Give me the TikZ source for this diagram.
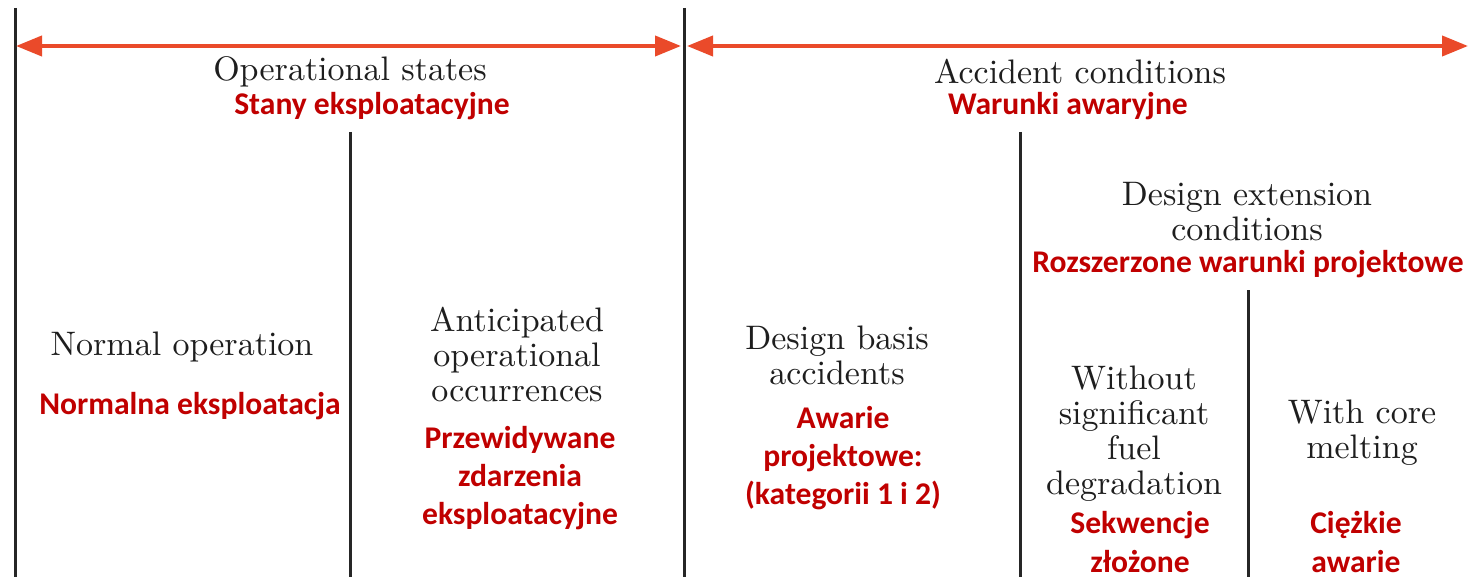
\documentclass[tikz,border=0pt]{standalone}
\usepackage{fontspec}
\usepackage{xcolor}
\usetikzlibrary{arrows.meta}
\newfontfamily\plfont{Carlito}
\newfontfamily\enfont{lmroman10-regular.otf}
\definecolor{arrowred}{HTML}{EA4A2A}
\definecolor{plred}{HTML}{C00000}
\definecolor{entext}{HTML}{1E1E1E}

\begin{document}
\begin{tikzpicture}[x=0.5pt, y=-0.5pt,
  en/.style={text=entext, align=center, inner sep=0pt, font=\enfont\fontsize{17}{17.5}\selectfont},
  pl/.style={text=plred, align=center, inner sep=0pt, font=\plfont\bfseries\fontsize{15.8}{19.2}\selectfont},
  sepline/.style={line width=1.5pt, black!85},
  span/.style={line width=2pt, arrowred, {Triangle[length=13pt,width=10pt]}-{Triangle[length=13pt,width=10pt]}}]

\useasboundingbox (0,0) rectangle (1470,577);

% separators
\coordinate (s1t) at (15,8);    \coordinate (s1b) at (15,577);
\coordinate (s2t) at (684,8);   \coordinate (s2b) at (684,577);
\coordinate (s3t) at (350,132); \coordinate (s3b) at (350,577);
\coordinate (s4t) at (1020,132);\coordinate (s4b) at (1020,577);
\coordinate (s5t) at (1248,290);\coordinate (s5b) at (1248,577);
\draw[sepline] (s1t) -- (s1b);
\draw[sepline] (s2t) -- (s2b);
\draw[sepline] (s3t) -- (s3b);
\draw[sepline] (s4t) -- (s4b);
\draw[sepline] (s5t) -- (s5b);

% arrows
\coordinate (a1) at (16,46);  \coordinate (a2) at (681,46);
\coordinate (a3) at (687,46); \coordinate (a4) at (1468,46);
\draw[span] (a1) -- (a2);
\draw[span] (a3) -- (a4);

\node (opst) at (350,72) [en]{Operational states};
\node (plopst) at (372,106) [pl]{Stany eksploatacyjne};
\node (acc) at (1080,72) [en]{Accident conditions};
\node (placc) at (1068,106) [pl]{Warunki awaryjne};

\node (norm) at (182,347) [en]{Normal operation};
\node (plnorm) at (190,406) [pl]{Normalna eksploatacja};

\node (aoo) at (517,355) [en]{Anticipated\\operational\\occurrences};
\node (plaoo) at (520,478) [pl]{Przewidywane\\zdarzenia\\eksploatacyjne};

\node (dba) at (837,355) [en]{Design basis\\accidents};
\node (pldba) at (843,458) [pl]{Awarie\\projektowe:\\(kategorii 1 i 2)};

\node (dec) at (1247,212) [en]{Design extension\\conditions};
\node (pldec) at (1248,264) [pl]{Rozszerzone warunki projektowe};

\node (wsfd) at (1134,434) [en]{Without\\significant\\fuel\\degradation};
\node (plwsfd) at (1140,542) [pl]{Sekwencje\\złożone};

\node (wcm) at (1362,433) [en]{With core\\melting};
\node (plwcm) at (1356,542) [pl]{Ciężkie\\awarie};

\end{tikzpicture}
\end{document}
